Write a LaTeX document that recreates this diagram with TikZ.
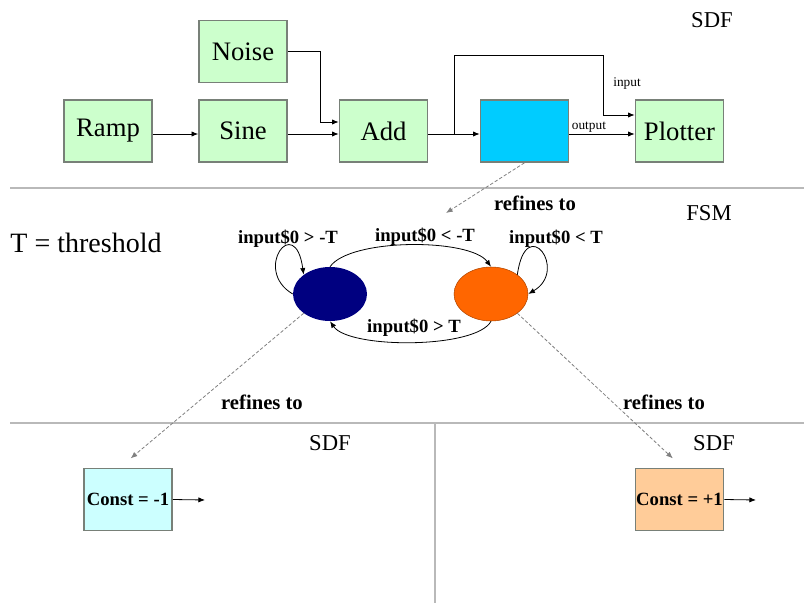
\documentclass[tikz,border=0pt]{standalone}
\usepackage{fontspec}
\setmainfont{Liberation Serif}
\usetikzlibrary{arrows.meta,shapes.geometric}
\definecolor{actorgreen}{RGB}{204,255,204}
\definecolor{modalblue}{RGB}{0,204,255}
\definecolor{edgegray}{RGB}{120,128,120}
\definecolor{rulegray}{RGB}{185,185,185}
\definecolor{stateneg}{RGB}{0,0,128}
\definecolor{statepos}{RGB}{255,102,0}
\definecolor{constneg}{RGB}{204,255,255}
\definecolor{constpos}{RGB}{255,204,153}

\begin{document}
\begin{tikzpicture}[x=0.75pt, y=-0.75pt,
	actor/.style={draw=edgegray, line width=1.2pt, fill=actorgreen, minimum width=66pt, minimum height=46.5pt, inner sep=0pt, font=\fontsize{20}{24}\selectfont},
	constbox/.style={actor, font=\bfseries\fontsize{14}{16}\selectfont},
	state/.style={ellipse, minimum width=55.5pt, minimum height=40.5pt, inner sep=0pt},
	lbl/.style={font=\bfseries\fontsize{14}{16}\selectfont, inner sep=1pt},
	reflbl/.style={font=\bfseries\fontsize{15.5}{18}\selectfont, inner sep=1pt},
	tag/.style={font=\fontsize{17}{20}\selectfont, inner sep=1pt},
	port/.style={font=\fontsize{10}{11}\selectfont, inner sep=1pt},
	arr/.style={-{Latex[length=5pt,width=4pt]}, line width=0.6pt},
	refine/.style={arr, draw=gray, dash pattern=on 2.5pt off 1.5pt}]
	\useasboundingbox (0,0) rectangle (804,603);
	% dividers
	\draw[rulegray, line width=0.8pt] (10,188) -- (804,188);
	\draw[rulegray, line width=0.8pt] (10,423) -- (804,423);
	\draw[rulegray, line width=0.8pt] (435,423) -- (435,603);

	% top level SDF
	\node[actor] (noise) at (243,51.5) {Noise};
	\node[actor] (ramp) at (108,131) {Ramp};
	\node[actor] (sine) at (243,131) {Sine};
	\node[actor] (add) at (383.5,131) {Add};
	\node[actor, fill=modalblue] (modal) at (524.5,131) {};
	\node[actor] (plotter) at (679.5,131) {Plotter};
	\node[tag] (sdftop) at (712,20) {SDF};

	\coordinate (mainrow) at (0,134);
	\coordinate (nbend) at (320,122);
	\coordinate (split) at (454,134);
	\coordinate (loopL) at (454,55);
	\coordinate (loopR) at (603,115);
	\draw[arr] (ramp.east |- mainrow) -- (sine.west |- mainrow);
	\draw[arr] (sine.east |- mainrow) -- (add.west |- mainrow);
	\draw[arr] (noise.east) -| (nbend) -- (nbend -| add.west);
	\draw[arr] (add.east |- mainrow) -- (modal.west |- mainrow);
	\draw[arr] (split) -- (loopL) -| (loopR) -- (loopR -| plotter.west);
	\draw[arr] (modal.east |- mainrow) -- node[port, above, pos=0.3] (outlbl) {output} (plotter.west |- mainrow);
	\node[port] (inlbl) at (627,84) {input};

	% FSM
	\node[state, fill=stateneg] (neg) at (330,294) {};
	\node[state, fill=statepos, draw=statepos!70!black] (pos) at (491,294) {};
	\draw[arr] (neg.north) .. controls (350,238) and (470,238) .. (pos.north);
	\draw[arr] (pos.south) .. controls (476,349) and (349,349) .. (neg.south);
	\draw[arr] (neg.west) .. controls (252,270) and (295,212) .. (neg.north west);
	\draw[arr] (pos.north east) .. controls (526,212) and (569,270) .. (pos.east);
	\node[lbl] (tneg) at (288,239) {input\$0 > -T};
	\node[lbl] (tnegpos) at (425,237) {input\$0 < -T};
	\node[lbl] (tpos) at (556,239) {input\$0 < T};
	\node[lbl] (tposneg) at (414,328) {input\$0 > T};
	\node[tag] (fsm) at (709,213) {FSM};
	\node[tag, font=\fontsize{21}{25}\selectfont] (thr) at (86,243) {T = threshold};

	\coordinate (fsmin) at (446,213);
	\draw[refine] (modal.south) -- (fsmin);
	\node[reflbl] (refmodal) at (535,203) {refines to};

	% state refinements
	\node[tag] (sdfneg) at (330,443) {SDF};
	\node[tag] (sdfpos) at (714,443) {SDF};
	\node[constbox, fill=constneg] (cneg) at (128,499.5) {Const = -1};
	\node[constbox, fill=constpos] (cpos) at (679.5,499.5) {Const = +1};
	\coordinate (negout) at (205,500);
	\coordinate (posout) at (756,500);
	\draw[arr] (cneg.east) -- (negout);
	\draw[arr] (cpos.east) -- (posout);
	\draw[refine] (neg.south west) -- ([xshift=2pt,yshift=7pt]cneg.north);
	\draw[refine] (pos.south east) -- ([xshift=-5pt,yshift=7pt]cpos.north);
	\node[reflbl] (refneg) at (262,402) {refines to};
	\node[reflbl] (refpos) at (664,402) {refines to};
\end{tikzpicture}
\end{document}
